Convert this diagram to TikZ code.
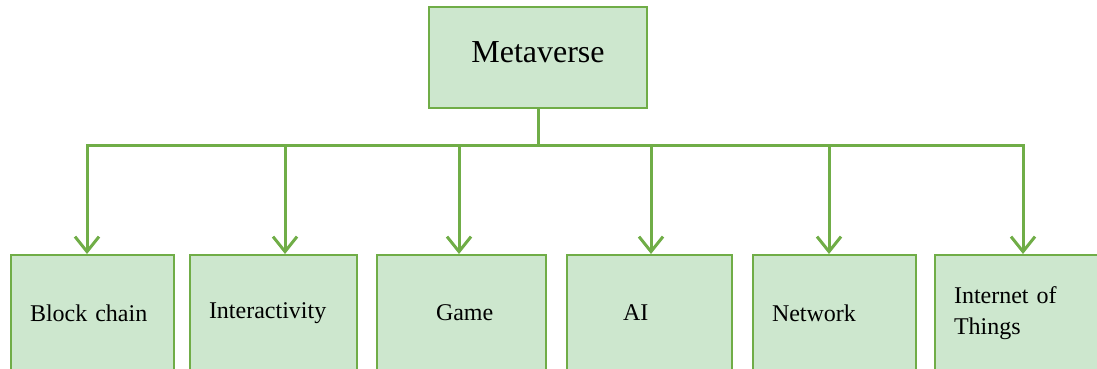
\documentclass[tikz,border=0pt]{standalone}
\usepackage{fontspec}
\setmainfont{Liberation Serif}
\usetikzlibrary{arrows.meta}
\definecolor{linegreen}{RGB}{112,173,71}
\definecolor{boxgreen}{RGB}{205,231,206}
\tikzset{
  topic/.style={draw=linegreen, line width=2pt, fill=boxgreen, minimum width=218pt, minimum height=101pt, text depth=10pt, font=\fontsize{32}{38}\selectfont},
  leaf/.style={draw=linegreen, line width=2pt, fill=boxgreen, anchor=north west, minimum height=116pt, inner xsep=19pt, text width=#1, align=left, font=\fontsize{24}{31}\selectfont},
  link/.style={draw=linegreen, line width=3pt},
}
\begin{document}
\begin{tikzpicture}[x=1pt,y=-1pt]
\useasboundingbox (0,0) rectangle (1097,369);

\node[topic] (meta) at (538,57.5) {Metaverse};

\node[leaf=125pt] (chain) at (10,254) {Block chain};
\node[leaf=129pt] (inter) at (189,254) {Interactivity};
\node[leaf=131pt] (game) at (376,254) {\hspace*{40pt}Game};
\node[leaf=127pt] (ai) at (566,254) {\hspace*{37pt}AI};
\node[leaf=125pt] (net) at (752,254) {Network};
\node[leaf=128pt] (iot) at (934,254) {Internet of Things};

\draw[link] (meta.south) -- ++(0,36) coordinate (bus);
\foreach \leaf/\dx in {chain/-5.5, inter/11.5, game/-2.5, ai/1.5, net/-5.5, iot/5}
  \draw[link,-{Straight Barb[length=15pt,width=24pt]}] (bus) -| ([xshift=\dx pt]\leaf.north);
\end{tikzpicture}
\end{document}
